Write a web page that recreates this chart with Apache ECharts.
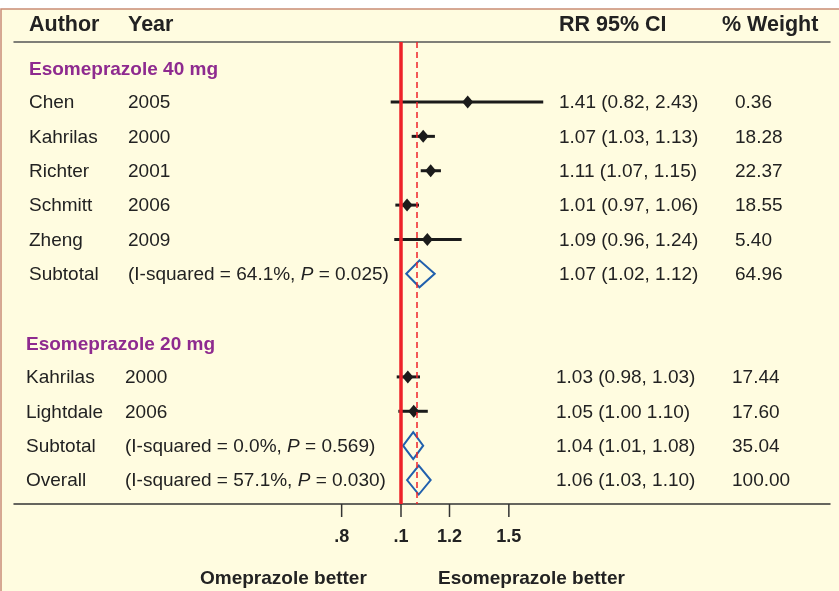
<!DOCTYPE html>
<html>
<head>
<meta charset="utf-8">
<script src="https://cdn.jsdelivr.net/npm/echarts@6/dist/echarts.min.js"></script>
<style>
  html, body { margin: 0; padding: 0; background: #fff; }
  #chart { width: 839px; height: 591px; }
</style>
</head>
<body>
<div id="chart"></div>
<script>
  // study rows (row index on the y scale)
  const studyRow = [1, 2, 3, 4, 5, 9, 10]
  const studyEst = [1.285, 1.087, 1.118, 1.023, 1.104, 1.026, 1.049]
  const studyLo  = [0.962, 1.041, 1.077, 0.979, 0.975, 0.984, 0.990]
  const studyHi  = [1.707, 1.136, 1.162, 1.070, 1.256, 1.074, 1.106]

  // pooled estimates (hollow diamonds)
  const pooledRow = [6, 11, 12]
  const pooledEst = [1.072, 1.047, 1.069]
  const pooledLo  = [1.020, 1.008, 1.023]
  const pooledHi  = [1.135, 1.087, 1.118]

  const nullValue = 1
  const overallValue = 1.065

  // table text
  const tableRow = [0, 1, 2, 3, 4, 5, 6, 8, 9, 10, 11, 12]
  const authors = ['Esomeprazole 40 mg', 'Chen', 'Kahrilas', 'Richter', 'Schmitt', 'Zheng', 'Subtotal',
                   'Esomeprazole 20 mg', 'Kahrilas', 'Lightdale', 'Subtotal', 'Overall']
  const years = ['', '2005', '2000', '2001', '2006', '2009', '(I-squared = 64.1%, {i|P} = 0.025)',
                 '', '2000', '2006', '(I-squared = 0.0%, {i|P} = 0.569)', '(I-squared = 57.1%, {i|P} = 0.030)']
  const ciText = ['', '1.41 (0.82, 2.43)', '1.07 (1.03, 1.13)', '1.11 (1.07, 1.15)', '1.01 (0.97, 1.06)',
                  '1.09 (0.96, 1.24)', '1.07 (1.02, 1.12)', '', '1.03 (0.98, 1.03)', '1.05 (1.00 1.10)',
                  '1.04 (1.01, 1.08)', '1.06 (1.03, 1.10)']
  const weightText = ['', '0.36', '18.28', '22.37', '18.55', '5.40', '64.96', '', '17.44', '17.60', '35.04', '100.00']

  const tickValues = [0.8, 1, 1.2, 1.5]
  const tickLabels = ['.8', '.1', '1.2', '1.5']

  const FONT = '"Liberation Sans", Arial, sans-serif'
  const INK = '#222'
  const RED = '#ee2229'
  const BLUE = '#2160ad'
  const PURPLE = '#8e2a8f'

  // x is drawn on ln(RR)
  const xMin = -1.4549, xMax = 1.6128
  const yMin = -0.746, yMax = 12.698

  const chart = echarts.init(document.getElementById('chart'))

  const studyData = studyRow.map((r, i) => [r, Math.log(studyLo[i]), Math.log(studyEst[i]), Math.log(studyHi[i])])
  const pooledData = pooledRow.map((r, i) => [r, Math.log(pooledLo[i]), Math.log(pooledEst[i]), Math.log(pooledHi[i])])

  function txt(x, y, text, opt) {
    return {
      type: 'text',
      style: Object.assign({
        x: x, y: y, text: text, fill: INK, font: '19px ' + FONT,
        verticalAlign: 'middle', align: 'left'
      }, opt || {})
    }
  }

  chart.setOption({
    animation: false,
    backgroundColor: '#fff',
    grid: { left: 14, right: 9, top: 42, bottom: 87 },
    xAxis: [
      {
        type: 'value', position: 'bottom', min: xMin, max: xMax,
        axisLine: { show: true, onZero: false, lineStyle: { color: '#333', width: 1.5 } },
        axisTick: { show: false }, axisLabel: { show: false }, splitLine: { show: false }
      },
      {
        type: 'value', position: 'top', min: xMin, max: xMax,
        axisLine: { show: true, onZero: false, lineStyle: { color: '#555', width: 1.5 } },
        axisTick: { show: false }, axisLabel: { show: false }, splitLine: { show: false }
      }
    ],
    yAxis: { type: 'value', inverse: true, min: yMin, max: yMax, show: false },
    graphic: [
      {
        type: 'rect', z: -10, silent: true,
        shape: { x: 1, y: 9, width: 860, height: 600 },
        style: { fill: '#fffce0', stroke: '#c98c74', lineWidth: 1.5 }
      },
      { type: 'text', left: 29, top: 14, style: { text: 'Author', font: 'bold 21.5px ' + FONT, fill: INK } },
      { type: 'text', left: 128, top: 14, style: { text: 'Year', font: 'bold 21.5px ' + FONT, fill: INK } },
      { type: 'text', left: 559, top: 14, style: { text: 'RR 95% CI', font: 'bold 21.5px ' + FONT, fill: INK } },
      { type: 'text', left: 722, top: 14, style: { text: '% Weight', font: 'bold 21.5px ' + FONT, fill: INK } },
      { type: 'text', left: 200, top: 569, style: { text: 'Omeprazole better', font: 'bold 19px ' + FONT, fill: INK } },
      { type: 'text', left: 438, top: 569, style: { text: 'Esomeprazole better', font: 'bold 19px ' + FONT, fill: INK } }
    ],
    series: [
      {
        // reference lines
        type: 'line', data: [], z: 1,
        markLine: {
          silent: true, symbol: 'none', label: { show: false },
          data: [
            { xAxis: Math.log(nullValue), lineStyle: { color: RED, width: 3.5, type: 'solid' } },
            { xAxis: Math.log(overallValue), lineStyle: { color: RED, width: 1.5, type: [6, 4] } }
          ]
        }
      },
      {
        // study CIs with filled diamonds
        type: 'custom', z: 3,
        data: studyData,
        encode: { x: [1, 2, 3], y: 0 },
        renderItem: function (params, api) {
          const row = api.value(0)
          const lo = api.coord([api.value(1), row])
          const c = api.coord([api.value(2), row])
          const hi = api.coord([api.value(3), row])
          return {
            type: 'group',
            children: [
              { type: 'line', shape: { x1: lo[0], y1: lo[1], x2: hi[0], y2: hi[1] },
                style: { stroke: '#1b1b1b', lineWidth: 3 } },
              { type: 'polygon',
                shape: { points: [[c[0], c[1] - 6.5], [c[0] + 5.5, c[1]], [c[0], c[1] + 6.5], [c[0] - 5.5, c[1]]] },
                style: { fill: '#1b1b1b' } }
            ]
          }
        }
      },
      {
        // pooled hollow diamonds
        type: 'custom', z: 3,
        data: pooledData,
        encode: { x: [1, 2, 3], y: 0 },
        renderItem: function (params, api) {
          const row = api.value(0)
          const lo = api.coord([api.value(1), row])
          const c = api.coord([api.value(2), row])
          const hi = api.coord([api.value(3), row])
          const h = params.dataIndex === 2 ? 14.5 : 13.5
          return {
            type: 'polygon',
            shape: { points: [[lo[0], lo[1]], [c[0], c[1] - h], [hi[0], hi[1]], [c[0], c[1] + h]] },
            style: { fill: 'none', stroke: BLUE, lineWidth: 2 }
          }
        }
      },
      {
        // axis ticks and labels
        type: 'custom', z: 3,
        data: tickValues.map(v => [Math.log(v), yMax]),
        encode: { x: 0, y: 1 },
        renderItem: function (params, api) {
          const p = api.coord([api.value(0), api.value(1)])
          return {
            type: 'group',
            children: [
              { type: 'line', shape: { x1: p[0], y1: p[1], x2: p[0], y2: p[1] + 13 },
                style: { stroke: '#333', lineWidth: 1.5 } },
              txt(p[0], p[1] + 33, tickLabels[params.dataIndex], { font: 'bold 18px ' + FONT, align: 'center' })
            ]
          }
        }
      },
      {
        // table columns
        type: 'custom', z: 3,
        data: tableRow.map(r => [xMin, r]),
        encode: { x: 0, y: 1 },
        renderItem: function (params, api) {
          const i = params.dataIndex
          const row = api.value(1)
          const y = api.coord([xMin, row])[1] + 1
          const shift = row >= 8 ? -3 : 0
          const kids = []
          if (row === 0 || row === 8) {
            kids.push(txt(29 + shift, y + 1, authors[i], { font: 'bold 19px ' + FONT, fill: PURPLE }))
          } else {
            kids.push(txt(29 + shift, y, authors[i]))
            kids.push(txt(128 + shift, y, years[i], {
              rich: { i: { fontSize: 19, fontFamily: FONT, fontStyle: 'italic', fill: INK } }
            }))
            kids.push(txt(559 + shift, y, ciText[i]))
            kids.push(txt(735 + shift, y, weightText[i]))
          }
          return { type: 'group', children: kids }
        }
      }
    ]
  })
</script>
</body>
</html>
